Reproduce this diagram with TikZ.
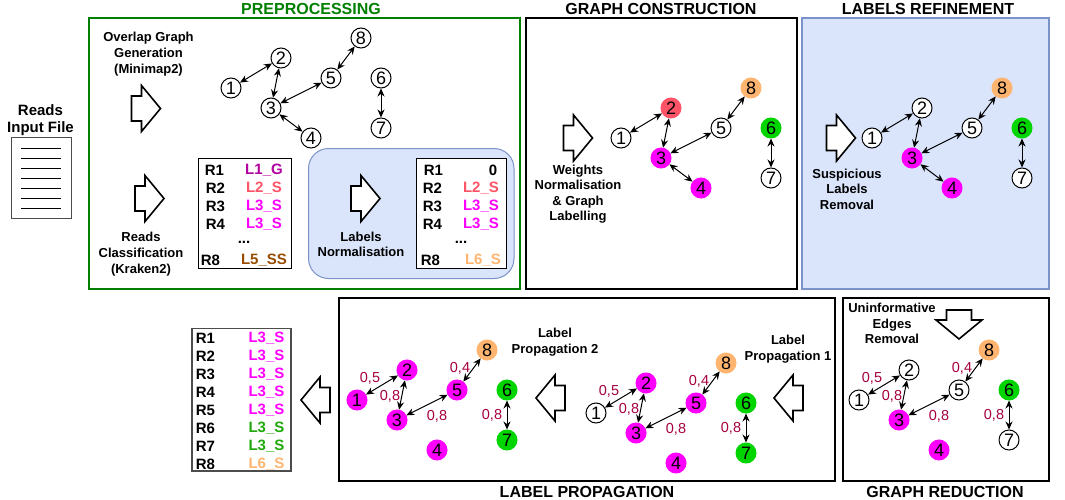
\documentclass[tikz,border=0pt]{standalone}
\usepackage{fontspec}
\setmainfont{Liberation Sans}
\usepackage{tikz}
\usetikzlibrary{arrows.meta,positioning}

\definecolor{panelgreen}{HTML}{007F00}
\definecolor{panelblue}{HTML}{DAE5FB}
\definecolor{panelrim}{HTML}{7A92C8}
\definecolor{labpurple}{HTML}{B000A0}
\definecolor{labred}{HTML}{FF5468}
\definecolor{labmag}{HTML}{FF00FF}
\definecolor{labbrown}{HTML}{994C00}
\definecolor{laborange}{HTML}{FFB570}
\definecolor{labgreen}{HTML}{1FA80A}
\definecolor{nodegreen}{HTML}{00D500}
\definecolor{weightcol}{HTML}{A50040}

\tikzset{
    panel/.style={line width=2pt},
    gnode/.style={circle, draw, line width=1pt, minimum size=20pt, inner sep=0pt,
        font=\fontsize{18}{18}\selectfont},
    gwhite/.style={gnode, fill=white},
    gred/.style={gnode, draw=labred, fill=labred},
    gmag/.style={gnode, draw=labmag, fill=labmag},
    ggreen/.style={gnode, draw=nodegreen, fill=nodegreen},
    gorange/.style={gnode, draw=laborange, fill=laborange},
    gedge/.style={{Stealth[length=8pt,width=7pt]}-{Stealth[length=8pt,width=7pt]}, line width=1pt},
    weight/.style={text=weightcol, yshift=-1pt, font=\fontsize{14.5}{15}\selectfont},
    caption/.style={align=center, yshift=-0.7pt, font=\bfseries\fontsize{13}{15.6}\selectfont},
    heading/.style={yshift=-1pt, font=\bfseries\fontsize{16}{16}\selectfont},
    rowlab/.style={yshift=-1pt, font=\bfseries\fontsize{15}{15}\selectfont},
    bigarrow/.pic={
        \draw[line width=1.6pt, fill=white] (0,0) -- (-19,-23) -- (-19,-12.5) -- (-29,-12.5)
            -- (-29,12.5) -- (-19,12.5) -- (-19,23) -- cycle;
    },
}

\newcommand{\graphnodes}[8]{
    \node[#1] (n1) at (0,0) {1};
    \node[#2] (n2) at (50,-30) {2};
    \node[#3] (n3) at (40,20) {3};
    \node[#4] (n4) at (80,50) {4};
    \node[#5] (n5) at (100,-10) {5};
    \node[#6] (n6) at (150,-10) {6};
    \node[#7] (n7) at (150,40) {7};
    \node[#8] (n8) at (130,-50) {8};
}
\newcommand{\graphedges}{
    \draw[gedge] (n1) -- (n2);
    \draw[gedge] (n2) -- (n3);
    \draw[gedge] (n3) -- (n5);
    \draw[gedge] (n5) -- (n8);
    \draw[gedge] (n6) -- (n7);
}
\newcommand{\graphweights}{
    \node[weight] (w12) at (13,-23) {0,5};
    \node[weight] (w23) at (33,-5) {0,8};
    \node[weight] (w35) at (80,15) {0,8};
    \node[weight] (w58) at (103,-33) {0,4};
    \node[weight] (w67) at (135,14) {0,8};
}

\begin{document}
\begin{tikzpicture}[x=1pt, y=-1pt]
    \useasboundingbox (0,0) rectangle (1065,500);

    % Input file
    \node[rowlab, align=center] (reads) at (40.5,119) {Reads\\[2.5pt]Input File};
    \draw[line width=1pt, draw=black!70] (11,138) rectangle (71,218);
    \foreach \y in {148,158,...,208}
        \draw[line width=0.8pt] (21,\y) -- (61,\y);

    % Panels
    \draw[panel, draw=panelgreen] (89,18) rectangle (519.5,289);
    \draw[panel] (526,18) rectangle (796.5,289);
    \draw[panel, draw=panelrim, fill=panelblue] (801.5,18) rectangle (1049,289);
    \draw[panel] (338.5,298) rectangle (835,481);
    \draw[panel] (842.5,298) rectangle (1049,481);
    \node[heading, text=panelgreen] (tpre) at (311,8) {PREPROCESSING};
    \node[heading] (tcon) at (661,8) {GRAPH CONSTRUCTION};
    \node[heading] (tref) at (928,8) {LABELS REFINEMENT};
    \node[heading] (tpro) at (587,491) {LABEL PROPAGATION};
    \node[heading] (tred) at (945,491) {GRAPH REDUCTION};

    % Preprocessing
    \node[caption] (overlap) at (148.5,53.5) {Overlap Graph\\Generation\\(Minimap2)};
    \pic at (160.5,108.5) {bigarrow};
    \begin{scope}[shift={(231,88)}]
        \graphnodes{gwhite}{gwhite}{gwhite}{gwhite}{gwhite}{gwhite}{gwhite}{gwhite}
        \graphedges
        \draw[gedge] (n3) -- (n4);
    \end{scope}
    \pic at (164,198.5) {bigarrow};
    \node[caption] (classif) at (141,253.5) {Reads\\Classification\\(Kraken2)};
    \draw[line width=1pt] (198.5,158) rectangle (291,268.5);
    \node[rowlab] (ra1) at (214.5,169) {R1};
    \node[rowlab] (ra2) at (215.5,187) {R2};
    \node[rowlab] (ra3) at (215.5,205) {R3};
    \node[rowlab] (ra4) at (215.5,223) {R4};
    \node[rowlab] (ra8) at (210.5,259) {R8};
    \node[rowlab] (radots) at (244,241) {...};
    \node[rowlab, text=labpurple] (la1) at (264,169) {L1\_G};
    \node[rowlab, text=labred] (la2) at (264,187) {L2\_S};
    \node[rowlab, text=labmag] (la3) at (264,205) {L3\_S};
    \node[rowlab, text=labmag] (la4) at (264,223) {L3\_S};
    \node[rowlab, text=labbrown] (la8) at (264,259) {L5\_SS};
    \draw[line width=1pt, draw=panelrim, fill=panelblue, rounded corners=20pt]
        (308.5,148.5) rectangle (514,278.5);
    \pic at (380,198.5) {bigarrow};
    \node[caption] (normal) at (361,243.5) {Labels\\Normalisation};
    \draw[line width=1pt, fill=white] (416.5,158) rectangle (506.5,268.5);
    \node[rowlab] (rb1) at (433.5,169) {R1};
    \node[rowlab] (rb2) at (432.5,187) {R2};
    \node[rowlab] (rb3) at (432.5,205) {R3};
    \node[rowlab] (rb4) at (432.5,223) {R4};
    \node[rowlab] (rb8) at (430.5,259) {R8};
    \node[rowlab] (rbdots) at (461,241) {...};
    \node[rowlab] (lb1) at (493,169) {0};
    \node[rowlab, text=labred] (lb2) at (481,187) {L2\_S};
    \node[rowlab, text=labmag] (lb3) at (481,205) {L3\_S};
    \node[rowlab, text=labmag] (lb4) at (481,223) {L3\_S};
    \node[rowlab, text=laborange] (lb8) at (483,259) {L6\_S};

    % Graph construction
    \pic at (592.5,138) {bigarrow};
    \node[caption] (weights) at (578,193.5) {Weights\\Normalisation\\\& Graph\\Labelling};
    \begin{scope}[shift={(621,138)}]
        \graphnodes{gwhite}{gred}{gmag}{gmag}{gwhite}{ggreen}{gwhite}{gorange}
        \graphedges
        \draw[gedge] (n3) -- (n4);
    \end{scope}

    % Labels refinement
    \pic at (855.5,138) {bigarrow};
    \node[caption] (suspect) at (847,188.5) {Suspicious\\Labels\\Removal};
    \begin{scope}[shift={(872,138)}]
        \graphnodes{gwhite}{gwhite}{gmag}{gmag}{gwhite}{ggreen}{gwhite}{gorange}
        \graphedges
        \draw[gedge] (n3) -- (n4);
    \end{scope}

    % Graph reduction
    \node[caption] (uninf) at (892,323) {Uninformative\\Edges\\Removal};
    \pic[rotate=-90] at (959,339) {bigarrow};
    \begin{scope}[shift={(859,400)}]
        \graphnodes{gwhite}{gwhite}{gmag}{gmag}{gwhite}{ggreen}{gwhite}{gorange}
        \graphedges
        \graphweights
    \end{scope}

    % Label propagation
    \node[caption] (prop1) at (788,348.5) {Label\\Propagation 1};
    \pic[rotate=180] at (774,398) {bigarrow};
    \begin{scope}[shift={(596,413)}]
        \graphnodes{gwhite}{gmag}{gmag}{gmag}{gmag}{ggreen}{ggreen}{gorange}
        \graphedges
        \graphweights
    \end{scope}
    \node[caption] (prop2) at (555,341.5) {Label\\Propagation 2};
    \pic[rotate=180] at (536,398) {bigarrow};
    \begin{scope}[shift={(357,400)}]
        \graphnodes{gmag}{gmag}{gmag}{gmag}{gmag}{ggreen}{ggreen}{gorange}
        \graphedges
        \graphweights
    \end{scope}

    % Final labels
    \pic[rotate=180] at (301,400) {bigarrow};
    \draw[line width=1.5pt, draw=black!70] (192,328.5) rectangle (291,471);
    \foreach \i/\lab/\col in {1/L3/labmag, 2/L3/labmag, 3/L3/labmag, 4/L3/labmag,
        5/L3/labmag, 6/L3/labgreen, 7/L3/labgreen, 8/L6/laborange} {
        \node[rowlab] (rc\i) at (205.5,319+18*\i) {R\i};
        \node[rowlab, text=\col] (lc\i) at (266.5,319+18*\i) {\lab\_S};
    }
\end{tikzpicture}
\end{document}
